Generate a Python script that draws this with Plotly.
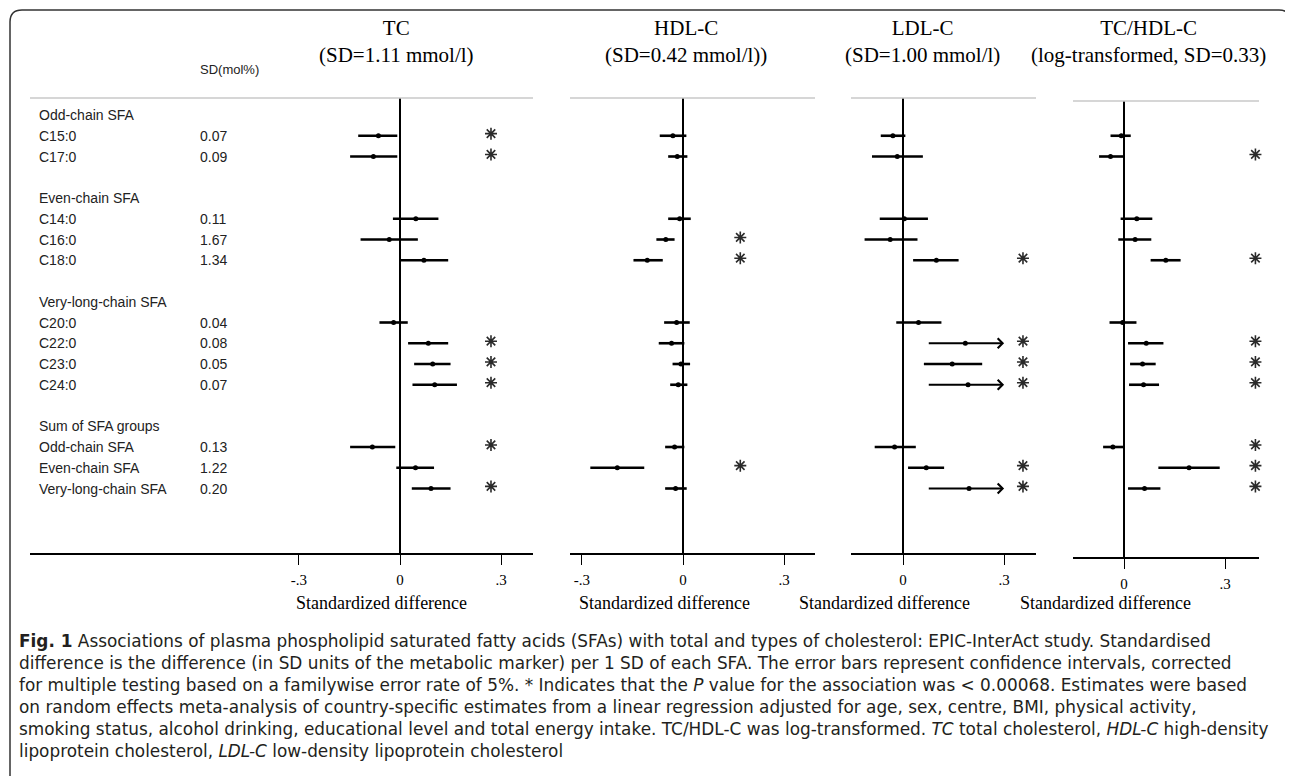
import plotly.graph_objects as go

W, H = 1293, 776
OFF = 8  # the page body adds an 8px margin, so positions are given in screen pixels


def fx(p):
    return (p - OFF) / W


def fy(p):
    return 1 - (p - OFF) / H


# ---------------- data ----------------
groups = ["Odd-chain SFA", "Even-chain SFA", "Very-long-chain SFA", "Sum of SFA groups"]
fatty_acids = ["C15:0", "C17:0", "C14:0", "C16:0", "C18:0", "C20:0", "C22:0", "C23:0", "C24:0",
               "Odd-chain SFA", "Even-chain SFA", "Very-long-chain SFA"]
group_of = [0, 0, 1, 1, 1, 2, 2, 2, 2, 3, 3, 3]
sd_mol = ["0.07", "0.09", "0.11", "1.67", "1.34", "0.04", "0.08", "0.05", "0.07", "0.13", "1.22", "0.20"]

panel_titles = ["TC<br>(SD=1.11 mmol/l)", "HDL-C<br>(SD=0.42 mmol/l))",
                "LDL-C<br>(SD=1.00 mmol/l)", "TC/HDL-C<br>(log-transformed, SD=0.33)"]

tc_est = [-0.064, -0.079, 0.047, -0.032, 0.071, -0.019, 0.084, 0.097, 0.103, -0.082, 0.046, 0.092]
tc_lo = [-0.124, -0.148, -0.021, -0.117, 0.002, -0.061, 0.024, 0.042, 0.037, -0.148, -0.011, 0.035]
tc_hi = [-0.008, -0.008, 0.114, 0.053, 0.143, 0.023, 0.143, 0.150, 0.169, -0.014, 0.101, 0.150]
tc_sig = [1, 1, 0, 0, 0, 0, 1, 1, 1, 1, 0, 1]

hdl_est = [-0.030, -0.017, -0.010, -0.051, -0.106, -0.019, -0.034, -0.006, -0.014, -0.025, -0.195, -0.022]
hdl_lo = [-0.069, -0.044, -0.044, -0.079, -0.147, -0.056, -0.072, -0.031, -0.038, -0.053, -0.275, -0.053]
hdl_hi = [0.010, 0.013, 0.023, -0.025, -0.060, 0.020, 0.004, 0.021, 0.013, 0.004, -0.115, 0.011]
hdl_sig = [0, 0, 0, 1, 1, 0, 0, 0, 0, 0, 1, 0]

ldl_est = [-0.030, -0.017, 0.004, -0.038, 0.099, 0.046, 0.185, 0.146, 0.193, -0.025, 0.069, 0.196]
ldl_lo = [-0.066, -0.092, -0.069, -0.114, 0.030, -0.020, 0.072, 0.062, 0.072, -0.084, 0.015, 0.072]
ldl_hi = [0.007, 0.059, 0.074, 0.043, 0.165, 0.114, 0.36, 0.235, 0.36, 0.038, 0.122, 0.36]
ldl_sig = [0, 0, 0, 0, 1, 0, 1, 1, 1, 0, 1, 1]

ratio_est = [-0.008, -0.040, 0.038, 0.033, 0.124, -0.004, 0.066, 0.055, 0.058, -0.033, 0.193, 0.061]
ratio_lo = [-0.040, -0.074, -0.010, -0.017, 0.079, -0.043, 0.012, 0.018, 0.015, -0.062, 0.102, 0.012]
ratio_hi = [0.020, -0.002, 0.084, 0.081, 0.168, 0.037, 0.117, 0.094, 0.104, -0.002, 0.284, 0.108]
ratio_sig = [0, 1, 0, 0, 1, 0, 1, 1, 1, 1, 1, 1]

ci_cap = 0.3  # intervals beyond this are drawn as arrows

tick_vals = [[-0.3, 0, 0.3], [-0.3, 0, 0.3], [0, 0.3], [0, 0.3]]
tick_text = [["-.3", "0", ".3"], ["-.3", "0", ".3"], ["0", ".3"], ["0", ".3"]]

caption = [
    "<b>Fig. 1</b> Associations of plasma phospholipid saturated fatty acids (SFAs) with total and types of cholesterol: EPIC-InterAct study. Standardised",
    "difference is the difference (in SD units of the metabolic marker) per 1 SD of each SFA. The error bars represent confidence intervals, corrected",
    "for multiple testing based on a familywise error rate of 5%. * Indicates that the <i>P</i> value for the association was &lt; 0.00068. Estimates were based",
    "on random effects meta-analysis of country-specific estimates from a linear regression adjusted for age, sex, centre, BMI, physical activity,",
    "smoking status, alcohol drinking, educational level and total energy intake. TC/HDL-C was log-transformed. <i>TC</i> total cholesterol, <i>HDL-C</i> high-density",
    "lipoprotein cholesterol, <i>LDL-C</i> low-density lipoprotein cholesterol",
]

# ---------------- row positions (header, items, blank line) ----------------
header_rows = []
item_rows = []
r = 0
for g in range(len(groups)):
    header_rows.append(r)
    r += 1
    for i, gi in enumerate(group_of):
        if gi == g:
            item_rows.append(r)
            r += 1
    r += 1

# ---------------- panel geometry (screen pixels) ----------------
PX_PER_UNIT = 337
ROW0, ROW_STEP = 115, 20.75
panels = [
    dict(zero=400, left=30, right=533, top=98, bottom=553, star=0.27, title=396),
    dict(zero=683, left=570, right=815, top=98, bottom=553, star=0.17, title=686),
    dict(zero=903, left=851, right=1036, top=98, bottom=553, star=0.356, title=922),
    dict(zero=1124, left=1073, right=1259, top=101, bottom=557, star=0.39, title=1148),
]
series = [(tc_est, tc_lo, tc_hi, tc_sig), (hdl_est, hdl_lo, hdl_hi, hdl_sig),
          (ldl_est, ldl_lo, ldl_hi, ldl_sig), (ratio_est, ratio_lo, ratio_hi, ratio_sig)]

SERIF = "Liberation Serif, Times New Roman, serif"
SANS = "Liberation Sans, Arial, sans-serif"

fig = go.Figure()
layout = {}
annotations = []
shapes = []

for k, (p, (est, lo, hi, sig)) in enumerate(zip(panels, series)):
    sfx = "" if k == 0 else str(k + 1)
    xr = [(p["left"] - p["zero"]) / PX_PER_UNIT, (p["right"] - p["zero"]) / PX_PER_UNIT]
    yr = [(p["bottom"] - ROW0) / ROW_STEP, (p["top"] - ROW0) / ROW_STEP]
    layout["xaxis" + sfx] = dict(
        domain=[fx(p["left"]), fx(p["right"])], range=xr, anchor="y" + sfx,
        showgrid=False, zeroline=True, zerolinecolor="black", zerolinewidth=1.5,
        showline=True, linecolor="black", linewidth=1.5,
        ticks="outside", ticklen=10, tickwidth=1.3, tickcolor="black",
        tickvals=tick_vals[k], ticktext=tick_text[k], ticklabelstandoff=2,
        tickfont=dict(family=SERIF, size=15, color="black"), fixedrange=True,
    )
    layout["yaxis" + sfx] = dict(
        domain=[fy(p["bottom"]), fy(p["top"])], range=yr, anchor="x" + sfx,
        showgrid=False, zeroline=False, showline=False, showticklabels=False, ticks="",
        fixedrange=True,
    )
    # light grey line at the top of each panel
    shapes.append(dict(type="line", xref=("x" + sfx) + " domain", yref=("y" + sfx) + " domain",
                       x0=0, x1=1, y0=1, y1=1, line=dict(color="#c9c9c9", width=1.5)))

    capped = [h > ci_cap for h in hi]
    plus = [0 if c else h - e for h, e, c in zip(hi, est, capped)]
    minus = [0 if c else e - l for l, e, c in zip(lo, est, capped)]
    fig.add_trace(go.Scatter(
        x=est, y=item_rows, mode="markers", xaxis="x" + sfx, yaxis="y" + sfx,
        marker=dict(color="black", size=5),
        error_x=dict(type="data", symmetric=False, array=plus, arrayminus=minus,
                     thickness=2.6, width=0, color="black"),
        showlegend=False, cliponaxis=False,
    ))
    for l, c, row in zip(lo, capped, item_rows):
        if c:
            annotations.append(dict(
                x=ci_cap, y=row, ax=l, ay=row, xref="x" + sfx, yref="y" + sfx,
                axref="x" + sfx, ayref="y" + sfx, text="", showarrow=True,
                arrowhead=4, arrowsize=1.0, arrowwidth=1.9, arrowcolor="black", standoff=0,
            ))
    # significance asterisks
    star_rows = [row for s, row in zip(sig, item_rows) if s]
    fig.add_trace(go.Scatter(
        x=[p["star"]] * len(star_rows), y=[row - 0.1 for row in star_rows],
        mode="markers", xaxis="x" + sfx, yaxis="y" + sfx,
        marker=dict(symbol="asterisk-open", size=10, color="#2a2a2a",
                    line=dict(color="#2a2a2a", width=1.6)),
        showlegend=False, cliponaxis=False,
    ))
    # panel title and axis title
    annotations.append(dict(
        x=fx(p["title"]), y=fy(42), xref="paper", yref="paper",
        xanchor="center", yanchor="middle",
        text=panel_titles[k], showarrow=False, align="center",
        font=dict(family=SERIF, size=21, color="black"),
    ))
    annotations.append(dict(
        x=-0.055, y=fy(603), xref="x" + sfx, yref="paper", xanchor="center", yanchor="middle",
        text="Standardized difference", showarrow=False,
        font=dict(family=SERIF, size=18, color="black"),
    ))

# left-hand labels: group headers, fatty acids and their SDs
LABEL_X, SD_X = fx(37), fx(198)
label_font = dict(family=SANS, size=14, color="#222")
for g, row in zip(groups, header_rows):
    annotations.append(dict(x=LABEL_X, y=row, xref="paper", yref="y", text=g, showarrow=False,
                            xanchor="left", yanchor="middle", font=label_font))
for name, sd, row in zip(fatty_acids, sd_mol, item_rows):
    annotations.append(dict(x=LABEL_X, y=row, xref="paper", yref="y", text=name, showarrow=False,
                            xanchor="left", yanchor="middle", font=label_font))
    annotations.append(dict(x=SD_X, y=row, xref="paper", yref="y", text=sd, showarrow=False,
                            xanchor="left", yanchor="middle", font=label_font))
annotations.append(dict(x=SD_X, y=fy(70), xref="paper", yref="paper", text="SD(mol%)",
                        showarrow=False, xanchor="left", yanchor="middle",
                        font=dict(family=SANS, size=13, color="#222")))

# caption (one block, plotly line height is 1.3 em -> about 22 px)
annotations.append(dict(x=fx(17), y=fy(629), xref="paper", yref="paper",
                        text="<br>".join(caption), showarrow=False, align="left",
                        xanchor="left", yanchor="top",
                        font=dict(family="DejaVu Sans, Noto Sans, sans-serif", size=16.9,
                                  color="#231f20")))

# rounded outer frame
rx, ry = 12 / W, 12 / H
x0, x1, y1 = fx(10), fx(1291), fy(10)
shapes.append(dict(
    type="path", xref="paper", yref="paper",
    path=(f"M {x0},0 L {x0},{y1 - ry} Q {x0},{y1} {x0 + rx},{y1} "
          f"L {x1 - rx},{y1} Q {x1},{y1} {x1},{y1 - ry} L {x1},0"),
    line=dict(color="#333", width=1.5),
))

fig.update_layout(
    width=W, height=H, margin=dict(l=0, r=0, t=0, b=0),
    paper_bgcolor="white", plot_bgcolor="white",
    annotations=annotations, shapes=shapes, showlegend=False,
    **layout,
)

fig.write_html("out.html")
